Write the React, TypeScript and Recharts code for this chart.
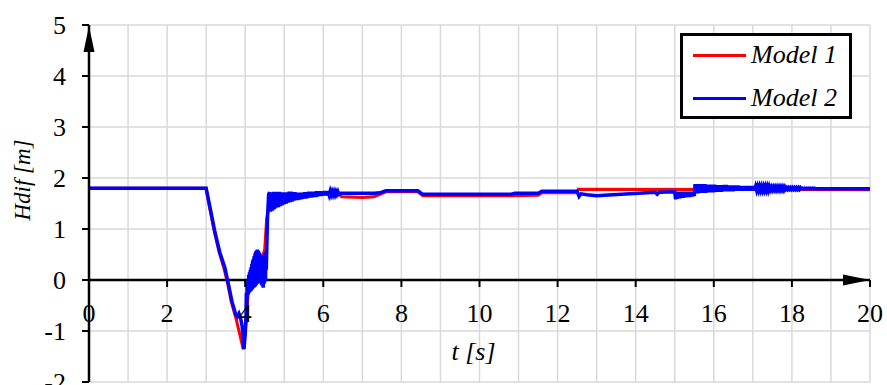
import React from "react";
import {
  CartesianGrid,
  Legend,
  Line,
  LineChart,
  ReferenceDot,
  ReferenceLine,
  XAxis,
  YAxis,
} from "recharts";

const FONT = "Liberation Serif, Tinos, Times New Roman, Times, DejaVu Serif, Noto Serif, serif";

// axis ticks and grid values
const xTicks = [0, 2, 4, 6, 8, 10, 12, 14, 16, 18, 20];
const xGrid = [0, 1, 2, 3, 4, 5, 6, 7, 8, 9, 10, 11, 12, 13, 14, 15, 16, 17, 18, 19, 20];
const yTicks = [-2, -1, 0, 1, 2, 3, 4, 5];

// Model 1 (red): [t, Hdif]
const model1Raw: [number, number][] = [
  [0, 1.8], [3.0, 1.8], [3.08, 1.45], [3.2, 0.98], [3.33, 0.55], [3.46, 0.22],
  [3.56, -0.1], [3.64, -0.42], [3.78, -0.8], [3.95, -1.36], [4.02, -0.85],
  [4.08, -0.2], [4.2, 0.1], [4.4, 0.35], [4.5, 0.6], [4.55, 1.2], [4.62, 1.5],
  [4.72, 1.6], [5.0, 1.66], [5.5, 1.68], [6.0, 1.69], [6.4, 1.68], [6.47, 1.63],
  [7.0, 1.62], [7.3, 1.63], [7.45, 1.68], [7.6, 1.73], [8.42, 1.73], [8.55, 1.65],
  [10.8, 1.65], [11.5, 1.66], [11.6, 1.71], [12.5, 1.71], [12.53, 1.78], [20, 1.77],
];

// Model 2 (blue), split by region
const model2Dive: [number, number][] = [
  [0, 1.8], [3.0, 1.8], [3.1, 1.42], [3.22, 0.96], [3.35, 0.54], [3.48, 0.24],
  [3.57, -0.08], [3.66, -0.42], [3.76, -0.68], [3.8, -0.72], [3.84, -0.66],
  [3.88, -0.74], [3.92, -0.9], [3.97, -1.35], [4.0, -1.05],
];
const model2Shake: [number, number][] = [
  [4.02, -0.75], [4.03, -0.25], [4.04, -0.6], [4.05, -0.05], [4.06, -0.3], [4.07, 0.0],
  [4.08, -0.28], [4.09, 0.1], [4.1, -0.25], [4.11, 0.15], [4.12, -0.23], [4.13, 0.2],
  [4.14, -0.22], [4.15, 0.25], [4.16, -0.2], [4.17, 0.32], [4.18, -0.18], [4.19, 0.38],
  [4.2, -0.16], [4.21, 0.42], [4.22, -0.15], [4.23, 0.47], [4.24, -0.14], [4.25, 0.52],
  [4.26, -0.12], [4.27, 0.56], [4.28, -0.1], [4.29, 0.58], [4.3, -0.08], [4.31, 0.6],
  [4.32, -0.07], [4.33, 0.58], [4.34, -0.06], [4.35, 0.56], [4.36, -0.05], [4.37, 0.53],
  [4.38, -0.05], [4.39, 0.5], [4.4, -0.06], [4.41, 0.46], [4.42, -0.1], [4.43, 0.4],
  [4.44, -0.12], [4.45, 0.36], [4.46, -0.15], [4.47, 0.42], [4.48, -0.08], [4.49, 0.5],
  [4.5, -0.05], [4.51, 0.52], [4.52, 0.0], [4.53, 0.55], [4.54, 0.2], [4.57, 1.2],
  [4.6, 1.68],
];
const model2Band1: [number, number][] = [
  [4.625, 1.72], [4.65, 1.34], [4.675, 1.72], [4.7, 1.36], [4.725, 1.73], [4.75, 1.39],
  [4.775, 1.73], [4.8, 1.42], [4.825, 1.73], [4.85, 1.43], [4.875, 1.73], [4.9, 1.45],
  [4.925, 1.72], [4.95, 1.47], [4.975, 1.72], [5.0, 1.49], [5.025, 1.72], [5.05, 1.5],
  [5.075, 1.72], [5.1, 1.52], [5.125, 1.73], [5.15, 1.53], [5.175, 1.73], [5.2, 1.54],
  [5.225, 1.72], [5.25, 1.56], [5.275, 1.72], [5.3, 1.57], [5.325, 1.71], [5.35, 1.57],
  [5.375, 1.71], [5.4, 1.58], [5.425, 1.71], [5.45, 1.59], [5.475, 1.71], [5.5, 1.6],
  [5.525, 1.72], [5.55, 1.6], [5.575, 1.72], [5.6, 1.61], [5.625, 1.73], [5.65, 1.62],
  [5.675, 1.73], [5.7, 1.62], [5.725, 1.73], [5.75, 1.63], [5.775, 1.73], [5.8, 1.63],
  [5.825, 1.74], [5.85, 1.64], [5.875, 1.74], [5.9, 1.65], [5.925, 1.74], [5.95, 1.65],
  [5.975, 1.74], [6.0, 1.66], [6.025, 1.74], [6.05, 1.66], [6.075, 1.74], [6.1, 1.66],
  [6.125, 1.74], [6.15, 1.67], [6.175, 1.74], [6.2, 1.67], [6.225, 1.73], [6.25, 1.67],
  [6.275, 1.73], [6.3, 1.67], [6.325, 1.73], [6.35, 1.68], [6.375, 1.73], [6.4, 1.68],
];
const model2Mid: [number, number][] = [
  [6.45, 1.7], [7.3, 1.7], [7.45, 1.71], [7.6, 1.75], [8.42, 1.75], [8.55, 1.68],
  [10.8, 1.68], [10.9, 1.7], [11.5, 1.7], [11.6, 1.74], [12.5, 1.74], [12.55, 1.64],
  [12.6, 1.69], [12.75, 1.67], [13.0, 1.65], [13.2, 1.66], [14.5, 1.72], [14.55, 1.68],
  [14.6, 1.72], [15.0, 1.73],
];
const model2Band2: [number, number][] = [
  [15.02, 1.58], [15.04, 1.73], [15.06, 1.59], [15.08, 1.73], [15.1, 1.6], [15.12, 1.73],
  [15.14, 1.6], [15.16, 1.73], [15.18, 1.61], [15.2, 1.73], [15.22, 1.61], [15.24, 1.73],
  [15.26, 1.62], [15.28, 1.73], [15.3, 1.62], [15.32, 1.73], [15.34, 1.63], [15.36, 1.73],
  [15.38, 1.63], [15.4, 1.73], [15.42, 1.64], [15.44, 1.73], [15.46, 1.64], [15.48, 1.73],
  [15.5, 1.65],
];
const model2Band3: [number, number][] = [
  [15.52, 1.88], [15.545, 1.7], [15.57, 1.88], [15.595, 1.7], [15.62, 1.88], [15.645, 1.71],
  [15.67, 1.88], [15.695, 1.71], [15.72, 1.88], [15.745, 1.71], [15.77, 1.88], [15.795, 1.71],
  [15.82, 1.87], [15.845, 1.72], [15.87, 1.87], [15.895, 1.72], [15.92, 1.87], [15.945, 1.72],
  [15.97, 1.87], [15.995, 1.72], [16.02, 1.87], [16.045, 1.73], [16.07, 1.86], [16.095, 1.73],
  [16.12, 1.86], [16.145, 1.73], [16.17, 1.86], [16.195, 1.73], [16.22, 1.86], [16.245, 1.74],
  [16.27, 1.86], [16.295, 1.74], [16.32, 1.86], [16.345, 1.74], [16.37, 1.85], [16.395, 1.74],
  [16.42, 1.85], [16.445, 1.74], [16.47, 1.85], [16.495, 1.74], [16.52, 1.85], [16.545, 1.75],
  [16.57, 1.85], [16.595, 1.75], [16.62, 1.85], [16.645, 1.75], [16.67, 1.84], [16.695, 1.75],
  [16.72, 1.84], [16.745, 1.75], [16.77, 1.84], [16.795, 1.75], [16.82, 1.84], [16.845, 1.75],
  [16.87, 1.84], [16.895, 1.75], [16.92, 1.84], [16.945, 1.76], [16.97, 1.84], [16.995, 1.76],
  [17.02, 1.84], [17.045, 1.76], [17.07, 1.83], [17.095, 1.76], [17.12, 1.83], [17.145, 1.76],
  [17.17, 1.83], [17.195, 1.76], [17.22, 1.83], [17.245, 1.76], [17.27, 1.83], [17.295, 1.76],
  [17.32, 1.83], [17.345, 1.76], [17.37, 1.83], [17.395, 1.76], [17.42, 1.83], [17.445, 1.77],
  [17.47, 1.82], [17.495, 1.77], [17.52, 1.82], [17.545, 1.77], [17.57, 1.82], [17.595, 1.77],
  [17.62, 1.82], [17.645, 1.77], [17.67, 1.82], [17.695, 1.77], [17.72, 1.82], [17.745, 1.77],
  [17.77, 1.82], [17.795, 1.77], [17.82, 1.82], [17.845, 1.78], [17.87, 1.81], [17.895, 1.78],
  [17.92, 1.81], [17.945, 1.78], [17.97, 1.81], [17.995, 1.78], [18.02, 1.81], [18.045, 1.78],
  [18.07, 1.81], [18.095, 1.78], [18.12, 1.81], [18.145, 1.78], [18.17, 1.81], [18.195, 1.78],
  [18.22, 1.81], [18.245, 1.79], [18.27, 1.8], [18.295, 1.79], [18.32, 1.8], [18.345, 1.79],
  [18.37, 1.8], [18.395, 1.79], [18.42, 1.8], [18.445, 1.79], [18.47, 1.8], [18.495, 1.79],
  [18.52, 1.8], [18.545, 1.79], [18.57, 1.8], [18.6, 1.79],
];
const model2Tail: [number, number][] = [[20, 1.79]];

const toPoints = (arr: [number, number][]) => arr.map(([t, v]) => ({ t, v }));
const model1 = toPoints(model1Raw);
const model2 = toPoints([
  ...model2Dive,
  ...model2Shake,
  ...model2Band1,
  ...model2Mid,
  ...model2Band2,
  ...model2Band3,
  ...model2Tail,
]);

const XTick = ({ cx, cy, value }: { cx: number; cy: number; value: number }) => (
  <g>
    <line x1={cx} y1={cy} x2={cx} y2={cy + 7} stroke="#000" strokeWidth={2} />
    <text x={cx} y={cy + 42} textAnchor="middle" fontSize={26} fontFamily={FONT} fill="#000">
      {value}
    </text>
  </g>
);

const LegendBox = ({ payload }: any) => (
  <div
    style={{
      position: "relative",
      width: 172,
      height: 86,
      boxSizing: "border-box",
      border: "3px solid #000",
      background: "#fff",
    }}
  >
    {(payload || []).map((e: any, i: number) => (
      <div
        key={e.value}
        style={{
          position: "absolute",
          left: 10,
          top: 4 + i * 43,
          height: 30,
          display: "flex",
          alignItems: "center",
          whiteSpace: "nowrap",
        }}
      >
        <div style={{ width: 53, height: 3, background: e.color, marginRight: 5 }} />
        <span style={{ fontFamily: FONT, fontStyle: "italic", fontSize: 26, lineHeight: "30px", color: "#000" }}>
          {e.value}
        </span>
      </div>
    ))}
  </div>
);

export default function App() {
  return (
    <div style={{ position: "absolute", left: 0, top: 0, background: "#fff", fontFamily: FONT }}>
      <LineChart width={887} height={385} margin={{ top: 25, right: 17, bottom: 3, left: 0 }}>
        <CartesianGrid stroke="#d9d9d9" strokeWidth={1.5} />
        <XAxis type="number" dataKey="t" domain={[0, 20]} ticks={xGrid} hide />
        <YAxis
          type="number"
          domain={[-2, 5]}
          ticks={yTicks}
          interval={0}
          width={89}
          axisLine={{ stroke: "#000", strokeWidth: 2.5 }}
          tickLine={{ stroke: "#000", strokeWidth: 2 }}
          tickSize={7}
          tickMargin={16}
          tick={{ fontSize: 26, fill: "#000", fontFamily: FONT }}
          label={{
            content: (p: any) => {
              const vb = p.viewBox;
              const x = vb.x + 30;
              const y = 180;
              return (
                <text
                  x={x}
                  y={y}
                  transform={`rotate(-90, ${x}, ${y})`}
                  textAnchor="middle"
                  fontSize={23}
                  fontStyle="italic"
                  fontFamily={FONT}
                  fill="#000"
                >
                  Hdif [m]
                </text>
              );
            },
          }}
        />
        <ReferenceLine y={0} stroke="#000" strokeWidth={2.5} />
        {xTicks.map((t) => (
          <ReferenceDot
            key={t}
            x={t}
            y={0}
            r={0}
            shape={(p: any) => <XTick cx={p.cx} cy={p.cy} value={t} />}
          />
        ))}
        <ReferenceDot
          x={20}
          y={0}
          r={0}
          shape={(p: any) => (
            <polygon
              points={`${p.cx},${p.cy} ${p.cx - 27},${p.cy - 5.5} ${p.cx - 27},${p.cy + 5.5}`}
              fill="#000"
            />
          )}
        />
        <ReferenceDot
          x={0}
          y={5}
          r={0}
          shape={(p: any) => (
            <polygon
              points={`${p.cx},${p.cy + 1} ${p.cx - 5.5},${p.cy + 27} ${p.cx + 5.5},${p.cy + 27}`}
              fill="#000"
            />
          )}
        />
        <ReferenceDot
          x={10}
          y={0}
          r={0}
          shape={(p: any) => (
            <text
              x={p.cx - 6}
              y={p.cy + 80}
              textAnchor="middle"
              fontSize={26}
              fontStyle="italic"
              fontFamily={FONT}
              fill="#000"
            >
              t [s]
            </text>
          )}
        />
        <Legend
          layout="vertical"
          align="center"
          verticalAlign="middle"
          content={<LegendBox />}
          wrapperStyle={{ left: 680, top: 33, width: 172, height: 86 }}
        />
        <Line
          data={model1}
          dataKey="v"
          name="Model 1"
          stroke="#ff0000"
          strokeWidth={3}
          dot={false}
          isAnimationActive={false}
        />
        <Line
          data={model2}
          dataKey="v"
          name="Model 2"
          stroke="#0000ff"
          strokeWidth={3.5}
          dot={false}
          isAnimationActive={false}
        />
      </LineChart>
    </div>
  );
}
